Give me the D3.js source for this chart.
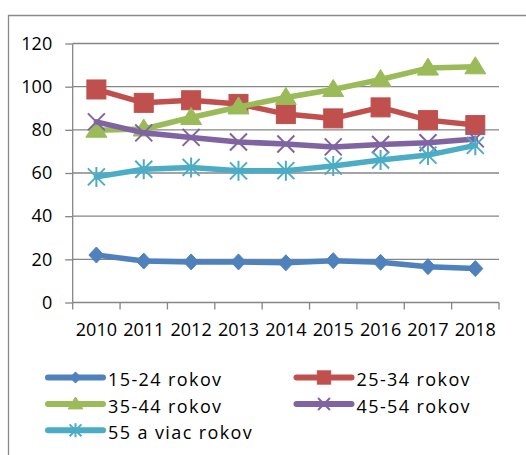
<!DOCTYPE html>
<html><head><meta charset="utf-8">
<script src="https://cdn.jsdelivr.net/npm/d3@7"></script>
<style>
html,body{margin:0;padding:0;background:#fff;}
svg{display:block;}
text{font-family:"Open Sans",sans-serif;fill:#000;}
</style></head>
<body>
<svg id="chart" width="526" height="455"></svg>
<script>
const years = ["2010","2011","2012","2013","2014","2015","2016","2017","2018"];
const yTicks = [0,20,40,60,80,100,120];
const seriesNames = ["15-24 rokov","25-34 rokov","35-44 rokov","45-54 rokov","55 a viac rokov"];
const s15_24 = [22.0,19.2,18.8,18.8,18.4,19.4,18.6,16.6,15.7];
const s25_34 = [98.7,92.5,93.7,92.0,87.3,85.3,90.4,84.5,82.2];
const s35_44 = [79.8,80.4,85.7,90.6,95.0,98.7,103.3,108.6,109.2];
const s45_54 = [83.7,78.6,76.5,74.4,73.4,72.1,73.2,74.0,75.8];
const s55 = [58.2,61.7,62.6,61.0,61.1,63.2,66.0,68.3,72.8];
const colors = ["#4F81BD","#C0504D","#9BBB59","#8064A2","#4BACC6"];
const markers = ["diamond","square","triangle","x","star"];
const allSeries = [s15_24,s25_34,s35_44,s45_54,s55];

const svg = d3.select("#chart");
const grid = "#868686";

// frame (cropped chart area border)
svg.append("path").attr("d","M8.5,455 V15.5 H526").attr("fill","none").attr("stroke","#8a8a8a").attr("stroke-width",1.3);

const x = d3.scaleBand().domain(years).range([72.7,499]);
const y = d3.scaleLinear().domain([0,120]).range([302.5,43.5]);

// gridlines
svg.append("g").selectAll("line").data(yTicks.filter(d=>d>0)).join("line")
  .attr("x1",72.7).attr("x2",499).attr("y1",d=>y(d)).attr("y2",d=>y(d))
  .attr("stroke",grid).attr("stroke-width",1.3);

// y axis
const yAxis = d3.axisLeft(y).tickValues(yTicks).tickSize(7.5).tickPadding(13).tickFormat(d3.format("d"));
const gy = svg.append("g").attr("transform","translate(72.7,0)").call(yAxis);
gy.select(".domain").attr("d","M0,43.5V302.5").attr("stroke",grid).attr("stroke-width",1.3);
gy.selectAll(".tick line").attr("stroke",grid).attr("stroke-width",1.3);
gy.selectAll("text").style("font-size","18px").style("font-family","Open Sans");

// x axis
const gx = svg.append("g").attr("transform","translate(0,302.5)").call(d3.axisBottom(x).tickSize(0).tickPadding(0));
gx.select(".domain").attr("d","M72.7,0H499").attr("stroke",grid).attr("stroke-width",1.3);
gx.selectAll(".tick line").remove();
gx.selectAll(".tick text").style("font-size","18px").style("font-family","Open Sans").attr("dy",null).attr("y",33.5);
// category boundary ticks
const bounds = years.map(d=>x(d)).concat([x(years[years.length-1])+x.bandwidth()]);
svg.append("g").selectAll("line").data(bounds).join("line")
  .attr("x1",d=>d).attr("x2",d=>d).attr("y1",302.5).attr("y2",309.5)
  .attr("stroke",grid).attr("stroke-width",1.3);

function drawMarker(g, type, color, cx, cy, s){
  if(type==="diamond"){
    g.append("path").attr("d",`M${cx},${cy-8*s}L${cx+7.5*s},${cy}L${cx},${cy+8*s}L${cx-7.5*s},${cy}Z`).attr("fill",color).attr("stroke",color).attr("stroke-width",1);
  } else if(type==="square"){
    const h=9.5*s;
    g.append("rect").attr("x",cx-h).attr("y",cy-h).attr("width",2*h).attr("height",2*h).attr("fill",color).attr("stroke",color).attr("stroke-width",1);
  } else if(type==="triangle"){
    g.append("path").attr("d",`M${cx},${cy-10*s}L${cx+10.5*s},${cy+7*s}L${cx-10.5*s},${cy+7*s}Z`).attr("fill",color).attr("stroke",color).attr("stroke-width",1);
  } else if(type==="x"){
    const h=8.5*s;
    g.append("path").attr("d",`M${cx-h},${cy-h}L${cx+h},${cy+h}M${cx-h},${cy+h}L${cx+h},${cy-h}`).attr("stroke",color).attr("stroke-width",2).attr("fill","none");
  } else if(type==="star"){
    const h=8.5*s, v=10*s;
    g.append("path").attr("d",`M${cx-h},${cy-h}L${cx+h},${cy+h}M${cx-h},${cy+h}L${cx+h},${cy-h}M${cx},${cy-v}L${cx},${cy+v}`).attr("stroke",color).attr("stroke-width",2).attr("fill","none");
  }
}

const line = d3.line().x((d,i)=>x(years[i])+x.bandwidth()/2).y(d=>y(d));
allSeries.forEach((vals,si)=>{
  const g = svg.append("g");
  g.append("path").attr("d",line(vals)).attr("fill","none").attr("stroke",colors[si])
    .attr("stroke-width",5.5).attr("stroke-linejoin","round").attr("stroke-linecap","round");
  vals.forEach((v,i)=>drawMarker(g,markers[si],colors[si],x(years[i])+x.bandwidth()/2,y(v),1));
});

// legend
const legPos = [[48,377.5],[296.5,377.5],[48,404],[296.5,404],[48,430.3]];
seriesNames.forEach((name,si)=>{
  const [lx,ly] = legPos[si];
  const g = svg.append("g");
  g.append("line").attr("x1",lx).attr("x2",lx+55).attr("y1",ly).attr("y2",ly)
    .attr("stroke",colors[si]).attr("stroke-width",6).attr("stroke-linecap","round");
  drawMarker(g,markers[si],colors[si],lx+27.5,ly,0.7);
  g.append("text").attr("x",lx+60).attr("y",ly+8.5).style("font-size","18px").style("letter-spacing","1.4px").text(name);
});
</script>
</body></html>
